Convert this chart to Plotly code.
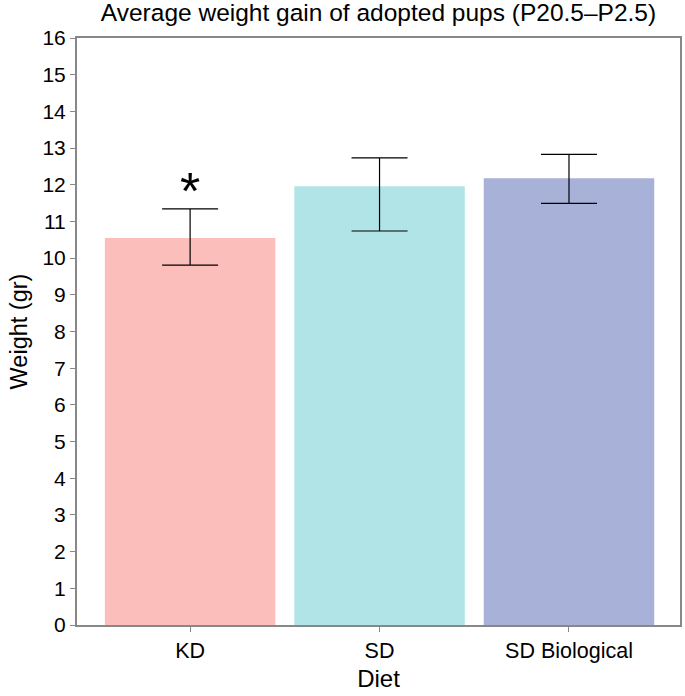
import plotly.graph_objects as go

categories = ["KD", "SD", "SD Biological"]
means = [10.55, 11.96, 12.18]
err_upper = [11.34, 12.73, 12.83]
err_lower = [9.81, 10.74, 11.49]
bar_colors = ["#FBBEBA", "#B0E4E7", "#A8B1D8"]
y_ticks = list(range(0, 17))
title_text = "Average weight gain of adopted pups (P20.5\u2013P2.5)"
signif_marks = ["*", "", ""]

plus = [u - m for u, m in zip(err_upper, means)]
minus = [m - l for m, l in zip(means, err_lower)]

FONT = "Liberation Sans, Arial, Helvetica, sans-serif"
AXIS_COLOR = "#888888"

fig = go.Figure()
fig.add_trace(go.Bar(
    x=categories,
    y=means,
    width=0.9,
    marker=dict(color=bar_colors, line=dict(width=0)),
    error_y=dict(type="data", symmetric=False, array=plus, arrayminus=minus,
                 color="black", thickness=1.2, width=28),
    showlegend=False,
))

for cat, mark, top in zip(categories, signif_marks, err_upper):
    if mark:
        fig.add_annotation(x=cat, y=top + 0.49, text=mark, showarrow=False,
                           font=dict(family=FONT, size=52, color="black"),
                           yanchor="middle")

fig.update_layout(
    width=685, height=696,
    margin=dict(l=77, r=3, t=38, b=71),
    paper_bgcolor="white", plot_bgcolor="white",
    font=dict(family=FONT, color="black"),
    title=dict(text=title_text, x=0.5, xref="paper", xanchor="center",
               y=1 - 12.5 / 696, yanchor="middle",
               font=dict(family=FONT, size=24.5, color="black")),
)
fig.update_xaxes(
    title=dict(text="Diet", font=dict(size=24), standoff=8),
    range=[-0.597, 2.586],
    showline=True, linecolor=AXIS_COLOR, linewidth=2, mirror=True,
    ticks="outside", ticklen=5, tickcolor=AXIS_COLOR, tickwidth=1,
    tickfont=dict(size=21.5), showgrid=False,
)
fig.update_yaxes(
    title=dict(text="Weight (gr)", font=dict(size=23.5), standoff=8),
    range=[0, 16], tickvals=y_ticks,
    showline=True, linecolor=AXIS_COLOR, linewidth=2, mirror=True,
    ticks="outside", ticklen=5, tickcolor=AXIS_COLOR, tickwidth=1,
    tickfont=dict(size=21), showgrid=False, zeroline=False,
)

fig.write_html("out.html", config={"displayModeBar": False},
               post_script="document.body.style.margin='0px';")
